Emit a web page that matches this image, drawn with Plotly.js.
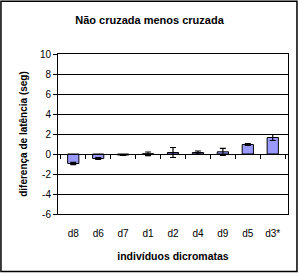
<!DOCTYPE html>
<html><head><meta charset="utf-8">
<script src="https://cdn.plot.ly/plotly-3.0.1.min.js"></script>
<style>html,body{margin:0;padding:0;background:#fff;}</style>
</head><body>
<div id="chart" style="width:299px;height:275px;"></div>
<script>
const categories = ["d8","d6","d7","d1","d2","d4","d9","d5","d3*"];
const diffValues = [-0.95,-0.45,-0.1,0.02,0.15,0.15,0.22,0.95,1.65];
const errValues  = [0.12,0.1,0.05,0.18,0.5,0.15,0.35,0.08,0.3];
const yTicks = [-6,-4,-2,0,2,4,6,8,10];

const font = {family:"Liberation Sans, Arial, sans-serif", color:"#000"};

const traces = [{
  type:"bar", x:categories, y:diffValues, width:0.45,
  marker:{color:"#9999FF", line:{color:"#000", width:1}},
  error_y:{type:"data", array:errValues, visible:true, color:"#000", thickness:1.2, width:3},
  hoverinfo:"none"
},{
  type:"scatter", x:categories, y:diffValues.map(()=>null), xaxis:"x2", yaxis:"y", showlegend:false, hoverinfo:"none"
}];

const layout = {
  width:299, height:275,
  margin:{l:58, r:11, t:54, b:61},
  paper_bgcolor:"#fff", plot_bgcolor:"#fff",
  showlegend:false,
  font:Object.assign({size:10}, font),
  title:{text:"<b>Não cruzada menos cruzada</b>", font:Object.assign({size:11}, font), x:0.5, xanchor:"center", y:0.925, yanchor:"middle"},
  xaxis:{
    type:"category", categoryorder:"array", categoryarray:categories,
    showline:true, linecolor:"#000", linewidth:1, mirror:true,
    ticks:"", showgrid:false, zeroline:false,
    tickfont:Object.assign({size:10}, font), ticklabelstandoff:10,
    title:{text:"<b>indivíduos dicromatas</b>", font:Object.assign({size:10.5}, font), standoff:14}
  },
  xaxis2:{
    type:"category", categoryorder:"array", categoryarray:categories,
    overlaying:"x", anchor:"free", position:0.375,
    showline:true, linecolor:"#000", linewidth:1,
    ticks:"outside", tickson:"boundaries", ticklen:4, tickcolor:"#000",
    showticklabels:false, showgrid:false, zeroline:false, matches:"x"
  },
  yaxis:{
    range:[-6,10], tickvals:yTicks, ticktext:yTicks.map(String),
    showline:true, linecolor:"#000", linewidth:1, mirror:true,
    ticks:"outside", ticklen:4, tickcolor:"#000",
    showgrid:true, gridcolor:"#000", gridwidth:1, zeroline:false,
    tickfont:Object.assign({size:10}, font),
    title:{text:"<b>diferença de latência (seg)</b>", font:Object.assign({size:10}, font), standoff:10}
  },
  shapes:[{type:"rect", xref:"paper", yref:"paper", x0:-0.248, x1:1.039, y0:-0.36, y1:1.33,
           line:{color:"#000", width:1.5}, fillcolor:"rgba(0,0,0,0)", layer:"above"}]
};

Plotly.newPlot("chart", traces, layout, {displayModeBar:false, staticPlot:true});
</script>
</body></html>
